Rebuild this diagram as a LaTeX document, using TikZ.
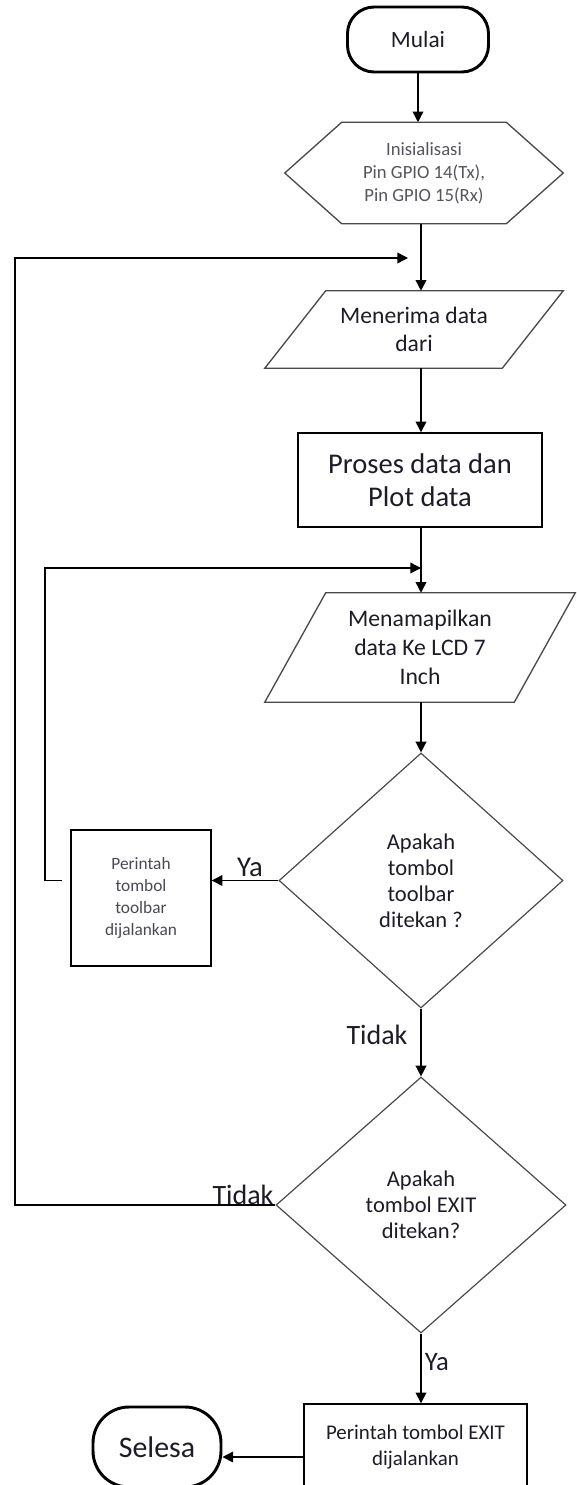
\documentclass[tikz,border=0pt]{standalone}
\usepackage{fontspec}
\setmainfont{Carlito}
\usetikzlibrary{arrows.meta,shapes.geometric}
\definecolor{flowink}{HTML}{000000}
\definecolor{flowgrey}{HTML}{4A4A4A}
\definecolor{flowtext}{HTML}{1C1C28}

\begin{document}
\begin{tikzpicture}[
  x=0.75pt,
  y=-0.75pt,
  every node/.style={inner sep=0pt, align=center, text=flowtext},
  garis/.style={flowink, line width=1.1pt},
  panah/.style={garis, -{Triangle[length=8pt, width=8pt]}},
  terminal/.style={draw=flowink, line width=2.2pt, rounded corners=20pt},
  kotak/.style={draw=flowink, line width=1.1pt},
  belah/.style={diamond, draw=flowgrey, line width=0.9pt},
  bentuk/.style={flowgrey, line width=1pt}
]
  \useasboundingbox (0,0) rectangle (577,1485);
  \clip (0,0) rectangle (577,1485);

  \coordinate (kolom) at (421,0);
  \coordinate (kiri1) at (15,0);
  \coordinate (kiri2) at (45,0);
  \coordinate (masuk1) at (408,258);
  \coordinate (masuk2) at (421,568);

  \node[terminal, minimum width=105.75pt, minimum height=48.75pt, font=\fontsize{17.5}{20}\selectfont] (mulai) at (418,39.5) {Mulai};

  \node[minimum width=208.5pt, minimum height=75.75pt, font=\fontsize{14}{17.25}\selectfont, text=flowtext!75] (init) at (424,173) {Inisialisasi\\Pin GPIO 14(Tx),\\Pin GPIO 15(Rx)};
  \draw[bentuk] (init.west) -- ([xshift=42.75pt]init.north west) -- ([xshift=-42.75pt]init.north east) -- (init.east) -- ([xshift=-42.75pt]init.south east) -- ([xshift=42.75pt]init.south west) -- cycle;

  \node[minimum width=223.5pt, minimum height=57.75pt, font=\fontsize{17.7}{21}\selectfont] (terima) at (414,329.5) {Menerima data\\dari};
  \draw[bentuk] ([xshift=45.75pt]terima.north west) -- (terima.north east) -- ([xshift=-45.75pt]terima.south east) -- (terima.south west) -- cycle;

  \node[kotak, minimum width=183pt, minimum height=70.5pt, font=\fontsize{21.4}{24.75}\selectfont] (proses) at (420,480) {Proses data dan\\Plot data};

  \node[minimum width=232.5pt, minimum height=81.75pt, font=\fontsize{17.8}{21.75}\selectfont] (tampil) at (420,647.5) {Menamapilkan\\data Ke LCD 7\\Inch};
  \draw[bentuk] ([xshift=45.75pt]tampil.north west) -- (tampil.north east) -- ([xshift=-45.75pt]tampil.south east) -- (tampil.south west) -- cycle;

  \node[belah, minimum width=213pt, minimum height=191.25pt, font=\fontsize{16.9}{19.5}\selectfont] (tanya1) at (421,880.5) {Apakah\\tombol\\toolbar\\ditekan ?};

  \node[kotak, minimum width=105pt, minimum height=102pt, font=\fontsize{13}{16.5}\selectfont, text=flowtext!80] (aksi1) at (141,898) {Perintah\\tombol\\toolbar\\dijalankan};

  \node[belah, minimum width=217.5pt, minimum height=192pt, font=\fontsize{16.9}{19.5}\selectfont] (tanya2) at (421,1205) {Apakah\\tombol EXIT\\ditekan?};

  \node[kotak, minimum width=167.25pt, minimum height=64.5pt, font=\fontsize{15.7}{20}\selectfont] (aksi2) at (415.5,1447) {Perintah tombol EXIT\\dijalankan};

  \node[terminal, rounded corners=27pt, minimum width=96pt, minimum height=60pt, font=\fontsize{22.4}{26}\selectfont] (selesai) at (157,1447) {Selesa};

  \node[font=\fontsize{21.5}{24}\selectfont] (ya1) at (250,867) {Ya};
  \node[font=\fontsize{21}{24}\selectfont] (tidak1) at (377,1035) {Tidak};
  \node[font=\fontsize{21}{24}\selectfont, anchor=base] (tidak2) at (243,1204) {Tidak};
  \node[font=\fontsize{20}{24}\selectfont] (ya2) at (437,1362) {Ya};

  \draw[panah] (mulai.south) -- (mulai.south |- init.north);
  \draw[panah] (init.south -| kolom) -- (terima.north -| kolom);
  \draw[panah] (terima.south -| kolom) -- (proses.north -| kolom);
  \draw[panah] (proses.south -| kolom) -- (tampil.north -| kolom);
  \draw[panah] (tampil.south -| kolom) -- (tanya1.north);
  \draw[panah] (tanya1.south) -- (tanya2.north);
  \draw[panah] (tanya2.south) -- (tanya2.south |- aksi2.north);
  \draw[panah] ([yshift=-7.5pt]aksi2.west) -- ([yshift=-7.5pt]aksi2.west -| selesai.east);
  \draw[panah] (tanya1.west) -- (tanya1.west -| aksi1.east);
  \draw[panah, shorten <=6pt] (tanya1.west -| aksi1.west) -- (tanya1.west -| kiri2) |- (masuk2);
  \draw[panah] (tanya2.west) -- (tanya2.west -| kiri1) |- (masuk1);
\end{tikzpicture}
\end{document}
